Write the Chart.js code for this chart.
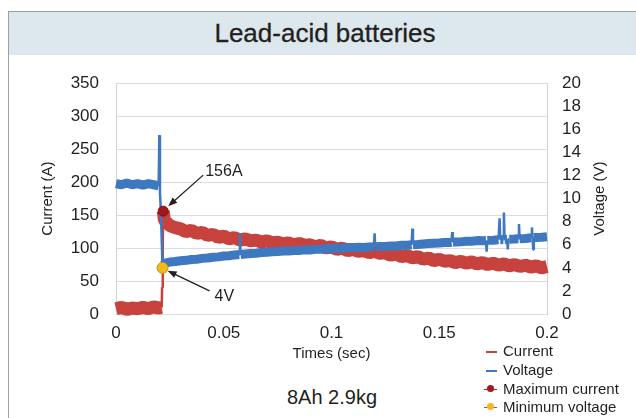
<!DOCTYPE html>
<html>
<head>
<meta charset="utf-8">
<script src="https://cdn.jsdelivr.net/npm/chart.js@4.4.1/dist/chart.umd.min.js"></script>
<style>
  body { margin:0; width:636px; height:418px; overflow:hidden; background:#fff;
         font-family:"Liberation Sans", Arial, sans-serif; color:#231f20; position:relative; }
  .frame { position:absolute; left:8px; top:11px; width:640px; height:420px;
           border-top:1px solid #a0a0a0; border-left:1px solid #a0a0a0; }
  .head { position:absolute; left:9px; top:12px; width:627px; height:43px; background:#dde7ee;
          text-align:center; line-height:43px; font-size:26px; padding-left:5px; box-sizing:border-box;
          -webkit-text-stroke:0.3px #231f20; }
  #wrap { position:absolute; left:8px; top:56px; width:628px; height:310px; }
  .sub { position:absolute; left:232px; width:200px; top:385px; text-align:center; font-size:20px; line-height:24px; }
  .leg { position:absolute; left:484px; font-size:15px; line-height:18px; white-space:nowrap; }
  .leg .ln { position:absolute; left:2px; top:9px; width:11px; height:2px; }
  .leg .dot { position:absolute; left:3px; top:5px; width:7px; height:7px; border-radius:50%; }
  .leg .thin { position:absolute; left:0px; top:8.5px; width:13px; height:1px; }
  .leg span.t { position:absolute; left:19px; top:0; }
</style>
</head>
<body>
<div class="frame"></div>
<div class="head">Lead-acid batteries</div>
<div id="wrap"><canvas id="chart" width="628" height="310"></canvas></div>
<div class="sub">8Ah 2.9kg</div>

<div class="leg" style="top:342px"><div class="ln" style="background:#c8423d"></div><span class="t">Current</span></div>
<div class="leg" style="top:361px"><div class="ln" style="background:#3d78c0"></div><span class="t">Voltage</span></div>
<div class="leg" style="top:380px"><div class="thin" style="background:#7a3a3a"></div><div class="dot" style="background:#a3161d"></div><span class="t">Maximum current</span></div>
<div class="leg" style="top:398px"><div class="thin" style="background:#6a5a9a"></div><div class="dot" style="background:#f2b81c"></div><span class="t">Minimum voltage</span></div>

<script>
// datos
const xTickLabels = ['0', '0.05', '0.1', '0.15', '0.2'];

// corriente (A), eje izquierdo
const currentTimes = [0, 0.0025, 0.005, 0.0075, 0.01, 0.0125, 0.015, 0.0175, 0.0195, 0.0212, 0.0214, 0.0217, 0.0219, 0.0225, 0.025,
  0.0275, 0.03, 0.0325, 0.035, 0.0375, 0.04, 0.0425, 0.045, 0.0475, 0.05, 0.0525, 0.055, 0.0575, 0.06, 0.0625, 0.065, 0.0675, 0.07,
  0.0725, 0.075, 0.0775, 0.08, 0.0825, 0.085, 0.0875, 0.09, 0.0925, 0.095, 0.0975, 0.1, 0.1025, 0.105, 0.1075, 0.11, 0.1125, 0.115,
  0.1175, 0.12, 0.1225, 0.125, 0.1275, 0.13, 0.1325, 0.135, 0.1375, 0.14, 0.1425, 0.145, 0.1475, 0.15, 0.1525, 0.155, 0.1575, 0.16,
  0.1625, 0.165, 0.1675, 0.17, 0.1725, 0.175, 0.1775, 0.18, 0.1825, 0.185, 0.1875, 0.19, 0.1925, 0.195, 0.1975, 0.2];
const currentValues = [8, 10, 7, 9, 8, 10, 8, 11, 9, 10, 40, 100, 156, 142, 134,
  131, 129, 125, 127, 122, 124, 119, 121, 116, 118, 114, 116, 112, 114, 111, 112, 109, 111,
  108, 109, 106, 108, 105, 107, 104, 105, 102, 104, 100, 102, 98, 100, 96, 98, 95, 96,
  93, 95, 92, 93, 89, 91, 87, 89, 85, 87, 83, 85, 81, 83, 80, 81, 78, 80,
  77, 79, 76, 78, 75, 77, 74, 76, 73, 75, 72, 74, 71, 73, 70, 72];

// tension (V), eje derecho
const voltageTimes = [0, 0.0025, 0.005, 0.0075, 0.01, 0.0125, 0.015, 0.0175, 0.0198, 0.0201, 0.0204, 0.0208, 0.0212, 0.0216, 0.022, 0.0225, 0.025,
  0.0275, 0.03, 0.0325, 0.035, 0.0375, 0.04, 0.0425, 0.045, 0.0475, 0.05, 0.0525, 0.055, 0.0572, 0.0575, 0.0578, 0.06, 0.0625, 0.065,
  0.0675, 0.07, 0.0725, 0.075, 0.0775, 0.08, 0.0825, 0.085, 0.0875, 0.09, 0.0925, 0.095, 0.0975, 0.1, 0.1025, 0.105, 0.1075, 0.11,
  0.1125, 0.115, 0.1175, 0.1197, 0.12, 0.1203, 0.1225, 0.125, 0.1275, 0.13, 0.1325, 0.135, 0.1372, 0.1375, 0.1378, 0.14, 0.1425,
  0.145, 0.1475, 0.15, 0.1525, 0.155, 0.1557, 0.156, 0.1563, 0.1575, 0.16, 0.1625, 0.165, 0.1675, 0.17, 0.1717, 0.172, 0.1723,
  0.175, 0.1775, 0.1777, 0.178, 0.1783, 0.1797, 0.18, 0.1803, 0.1815, 0.1818, 0.1821, 0.1825, 0.185, 0.1867, 0.187, 0.1873, 0.19,
  0.1927, 0.193, 0.1933, 0.1936, 0.1939, 0.195, 0.1975, 0.2];
const voltageValues = [11.3, 11.2, 11.35, 11.2, 11.3, 11.15, 11.3, 11.2, 11.1, 15.5, 10.5, 9.0, 6.5, 4.0, 4.3, 4.4, 4.5,
  4.55, 4.62, 4.65, 4.72, 4.75, 4.82, 4.85, 4.92, 4.95, 5.02, 5.05, 5.12, 5.15, 7.0, 5.15, 5.2, 5.25, 5.27,
  5.33, 5.35, 5.4, 5.41, 5.46, 5.45, 5.5, 5.51, 5.56, 5.55, 5.6, 5.61, 5.66, 5.65, 5.7, 5.7, 5.76, 5.75,
  5.78, 5.77, 5.8, 5.82, 7.0, 5.82, 5.85, 5.86, 5.9, 5.9, 5.95, 5.96, 6.0, 7.4, 6.0, 6.02, 6.07,
  6.1, 6.13, 6.15, 6.2, 6.2, 6.22, 7.1, 6.22, 6.24, 6.25, 6.3, 6.3, 6.36, 6.35, 6.37, 5.4, 6.38,
  6.4, 6.43, 6.43, 8.3, 6.44, 6.45, 8.8, 6.45, 6.47, 5.6, 6.47, 6.48, 6.5, 6.52, 7.8, 6.52, 6.55,
  6.6, 7.5, 6.6, 5.6, 6.62, 6.63, 6.66, 6.7];

// puntos marcados
const maxCurrent = { t: 0.0219, value: 156, label: '156A' };
const minVoltage = { t: 0.0216, value: 4.0, label: '4V' };

const RED = '#c8423d';
const BLUE = '#3d78c0';
const FONT = '"Liberation Sans", Arial, sans-serif';

const toPoints = (ts, vs) => ts.map((t, i) => ({ x: t, y: vs[i] }));

// ancho fino para los tramos verticales, grueso para la banda con ruido
const bandWidth = (thick) => (c) => (c.p1.parsed.x - c.p0.parsed.x < 0.00045 ? 2.5 : thick);

function arrow(ctx, x1, y1, x2, y2) {
  const a = Math.atan2(y2 - y1, x2 - x1);
  ctx.beginPath();
  ctx.moveTo(x1, y1);
  ctx.lineTo(x2 - 6 * Math.cos(a), y2 - 6 * Math.sin(a));
  ctx.stroke();
  ctx.beginPath();
  ctx.moveTo(x2, y2);
  ctx.lineTo(x2 - 9 * Math.cos(a) + 3.5 * Math.sin(a), y2 - 9 * Math.sin(a) - 3.5 * Math.cos(a));
  ctx.lineTo(x2 - 9 * Math.cos(a) - 3.5 * Math.sin(a), y2 - 9 * Math.sin(a) + 3.5 * Math.cos(a));
  ctx.closePath();
  ctx.fill();
}

const notes = {
  id: 'notes',
  afterDraw(chart) {
    const { ctx, scales, chartArea } = chart;
    ctx.save();
    ctx.strokeStyle = '#231f20';
    ctx.fillStyle = '#231f20';
    ctx.lineWidth = 1.3;
    ctx.font = '16px ' + FONT;
    ctx.textBaseline = 'middle';

    const mx = scales.x.getPixelForValue(maxCurrent.t);
    const my = scales.y.getPixelForValue(maxCurrent.value);
    arrow(ctx, mx + 40, my - 36, mx + 5, my - 5);
    ctx.fillText(maxCurrent.label, mx + 42, my - 40);

    const vx = scales.x.getPixelForValue(minVoltage.t);
    const vy = scales.y1.getPixelForValue(minVoltage.value);
    arrow(ctx, vx + 47, vy + 23, vx + 5, vy + 3);
    ctx.fillText(minVoltage.label, vx + 52, vy + 29);

    // titulo del eje derecho, leido de abajo arriba
    ctx.translate(592, (chartArea.top + chartArea.bottom) / 2);
    ctx.rotate(-Math.PI / 2);
    ctx.textAlign = 'center';
    ctx.font = '15px ' + FONT;
    ctx.fillText('Voltage (V)', 0, 0);
    ctx.restore();
  }
};

new Chart(document.getElementById('chart'), {
  type: 'line',
  data: {
    datasets: [
      {
        label: 'Maximum current',
        data: [{ x: maxCurrent.t, y: maxCurrent.value }],
        yAxisID: 'y', showLine: false, order: 0, clip: false,
        pointRadius: 5, pointBackgroundColor: '#a3161d', pointBorderColor: '#7c1116', pointBorderWidth: 1
      },
      {
        label: 'Minimum voltage',
        data: [{ x: minVoltage.t, y: minVoltage.value }],
        yAxisID: 'y1', showLine: false, order: 0, clip: false,
        pointRadius: 5.5, pointBackgroundColor: '#f2b81c', pointBorderColor: '#c79312', pointBorderWidth: 1
      },
      {
        label: 'Voltage',
        data: toPoints(voltageTimes, voltageValues),
        yAxisID: 'y1', order: 1, clip: 2,
        borderColor: BLUE, borderWidth: 9, pointRadius: 0, tension: 0,
        borderJoinStyle: 'bevel',
        segment: { borderWidth: bandWidth(9) }
      },
      {
        label: 'Current',
        data: toPoints(currentTimes, currentValues),
        yAxisID: 'y', order: 2, clip: 2,
        borderColor: RED, borderWidth: 13, pointRadius: 0, tension: 0,
        borderJoinStyle: 'bevel',
        segment: { borderWidth: bandWidth(13) }
      }
    ]
  },
  options: {
    responsive: false,
    animation: false,
    devicePixelRatio: 1,
    layout: { padding: { top: 27, left: 0, right: 0, bottom: 0 } },
    plugins: { legend: { display: false }, tooltip: { enabled: false } },
    scales: {
      x: {
        type: 'linear', min: 0, max: 0.2,
        afterFit: (s) => { s.height = 52; },
        grid: { display: false, drawTicks: false },
        border: { display: false },
        ticks: {
          stepSize: 0.05, padding: 9, color: '#231f20', font: { family: FONT, size: 17 },
          callback: (v, i) => xTickLabels[i]
        },
        title: { display: true, text: 'Times (sec)', color: '#231f20', font: { family: FONT, size: 15 }, padding: { top: 0, bottom: 3 } }
      },
      y: {
        position: 'left', min: 0, max: 350,
        afterFit: (s) => { s.width = 108; },
        grid: { color: '#dcdcdc', drawTicks: false },
        border: { display: true, color: '#d2d2d2' },
        ticks: { stepSize: 50, autoSkip: false, padding: 17, color: '#231f20', font: { family: FONT, size: 17 } },
        title: { display: true, text: 'Current (A)', color: '#231f20', font: { family: FONT, size: 15 }, padding: { top: 31, bottom: 0 } }
      },
      y1: {
        position: 'right', min: 0, max: 20,
        afterFit: (s) => { s.width = 89; },
        grid: { drawOnChartArea: false, drawTicks: false },
        border: { display: true, color: '#d2d2d2' },
        ticks: { stepSize: 2, autoSkip: false, padding: 15, color: '#231f20', font: { family: FONT, size: 17 } }
      }
    }
  },
  plugins: [notes]
});
</script>
</body>
</html>
